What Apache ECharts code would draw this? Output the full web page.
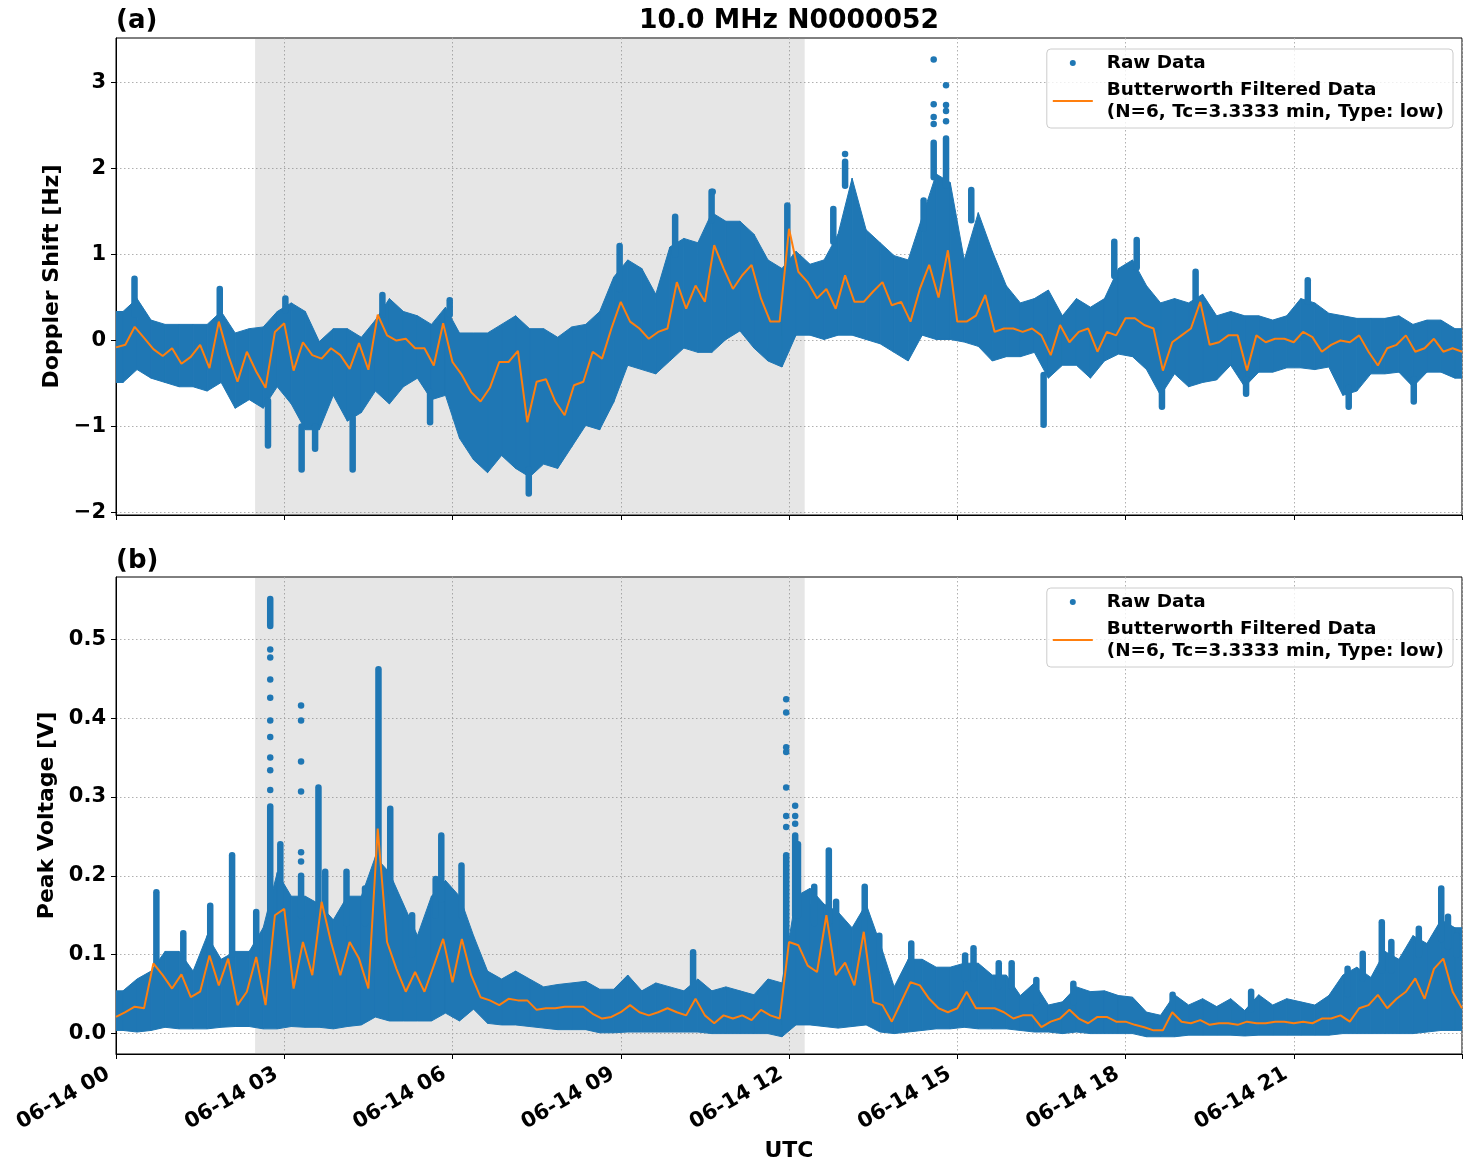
<!DOCTYPE html>
<html><head><meta charset="utf-8">
<script src="https://cdn.jsdelivr.net/npm/echarts@6/dist/echarts.min.js"></script>
<style>html,body{margin:0;padding:0;background:#fff}#chart{width:1471px;height:1172px}</style>
</head><body><div id="chart"></div>
<script>
// ---------------- data ----------------
const titleText = '10.0 MHz N0000052';
const panelLabels = ['(a)', '(b)'];
const xTickHours = [0, 3, 6, 9, 12, 15, 18, 21];
const xTickLabels = ['06-14 00', '06-14 03', '06-14 06', '06-14 09', '06-14 12', '06-14 15', '06-14 18', '06-14 21'];
const xAxisName = 'UTC';
const dopplerTicks = [-2, -1, 0, 1, 2, 3];
const voltageTicks = [0, 0.1, 0.2, 0.3, 0.4, 0.5];
const dopplerAxisName = 'Doppler Shift [Hz]';
const voltageAxisName = 'Peak Voltage [V]';
const shadedHours = [2.48, 12.28];
const rawName = 'Raw Data';
const filtName = 'Butterworth Filtered Data\n(N=6, Tc=3.3333 min, Type: low)';
const binHours = 0.25;          // raw-data envelope bins (15 min)
const filtStepHours = 1 / 6;    // filtered samples every 10 min
const dayHours = 24;

// Doppler shift raw-data envelope, 15-min bins (low / high edge of the dense cloud)
const dopplerLow = [-0.45,-0.3,-0.4,-0.45, -0.5,-0.5,-0.55,-0.45, -0.75,-0.65,-0.75,-0.5, -0.7,-1.0,-1.0,-0.6,
  -0.9,-0.8,-0.55,-0.7, -0.5,-0.4,-0.65,-0.6, -1.1,-1.35,-1.5,-1.3, -1.45,-1.55,-1.4,-1.45,
  -1.2,-0.95,-1.0,-0.68, -0.25,-0.3,-0.35,-0.2, -0.05,-0.1,-0.1,0.05, 0.15,-0.05,-0.2,-0.27,
  0.1,0.1,0.05,0.1, 0.1,0.05,0.0,-0.1, -0.2,0.1,0.05,0.05, 0.02,-0.03,-0.2,-0.15,
  -0.15,-0.1,-0.4,-0.25, -0.25,-0.4,-0.2,-0.12, -0.15,-0.3,-0.6,-0.35, -0.5,-0.45,-0.42,-0.25,
  -0.5,-0.33,-0.33,-0.28, -0.28,-0.3,-0.27,-0.6, -0.55,-0.35,-0.35,-0.33, -0.5,-0.33,-0.33,-0.4];
const dopplerHigh = [0.3,0.45,0.2,0.15, 0.15,0.15,0.15,0.3, 0.05,0.1,0.12,0.3, 0.4,0.3,-0.05,0.1,
  0.1,0.0,0.2,0.45, 0.3,0.25,0.15,0.35, 0.05,0.05,0.05,0.15, 0.25,0.1,0.1,0.0,
  0.12,0.15,0.3,0.7, 0.9,0.8,0.5,1.05, 1.15,1.1,1.45,1.35, 1.35,1.2,0.9,0.8,
  1.0,0.85,0.9,1.2, 1.85,1.25,1.1,0.95, 0.9,1.4,1.9,1.8, 0.9,1.45,1.0,0.6,
  0.4,0.45,0.55,0.25, 0.45,0.35,0.45,0.8, 0.9,0.6,0.4,0.45, 0.4,0.5,0.25,0.3,
  0.25,0.25,0.2,0.25, 0.45,0.4,0.28,0.25, 0.22,0.22,0.22,0.25, 0.15,0.2,0.2,0.1];
// narrow columns of raw points [hour, from, to]
const dopplerSpikes = [[0.33,0.3,0.72],[1.85,0.25,0.6],[3.02,0.35,0.49],[4.75,0.3,0.53],[5.95,0.3,0.47],
  [8.98,0.6,1.1],[9.97,1.0,1.44],[10.62,1.4,1.73],[11.97,0.8,1.57],[12.79,1.15,1.53],
  [13.0,1.8,2.08],[14.4,1.3,1.63],[14.58,1.9,2.3],[14.8,1.8,2.35],[15.25,1.4,1.75],
  [17.8,0.75,1.15],[18.2,0.85,1.17],[19.25,0.4,0.8],[21.25,0.45,0.7],
  [2.71,-0.7,-1.22],[3.31,-1.0,-1.5],[3.55,-1.0,-1.26],[4.22,-0.9,-1.5],[5.6,-0.6,-0.95],
  [7.36,-1.5,-1.78],[16.54,-0.4,-0.98],[18.65,-0.55,-0.77],[20.15,-0.45,-0.62],[21.98,-0.55,-0.77],[23.14,-0.45,-0.71]];
// isolated raw points [hour, value]
const dopplerDots = [[14.58,2.52],[14.58,2.6],[14.58,2.75],[14.58,3.27],[14.8,2.55],[14.8,2.67],[14.8,2.74],[14.8,2.97],[13.0,2.17],[10.64,1.73]];
// Butterworth filtered Doppler shift, every 10 min from 00:00 to 24:00
const dopplerFiltered = [-0.08,-0.05,0.16,0.03,-0.1,-0.18,
  -0.09,-0.27,-0.19,-0.05,-0.32,0.22,
  -0.17,-0.48,-0.13,-0.36,-0.55,0.1,
  0.2,-0.35,-0.02,-0.17,-0.21,-0.09,
  -0.17,-0.33,-0.03,-0.34,0.3,0.06,
  0.0,0.02,-0.09,-0.09,-0.29,0.2,
  -0.25,-0.4,-0.6,-0.71,-0.55,-0.25,
  -0.25,-0.12,-0.95,-0.48,-0.45,-0.71,
  -0.87,-0.52,-0.48,-0.13,-0.21,0.14,
  0.45,0.22,0.14,0.02,0.1,0.14,
  0.68,0.37,0.64,0.45,1.11,0.84,
  0.6,0.76,0.88,0.49,0.22,0.22,
  1.3,0.8,0.68,0.49,0.6,0.37,
  0.76,0.45,0.45,0.57,0.68,0.41,
  0.45,0.22,0.6,0.88,0.5,1.05,
  0.22,0.22,0.29,0.53,0.1,0.14,
  0.14,0.1,0.14,0.06,-0.17,0.18,
  -0.02,0.1,0.14,-0.13,0.1,0.06,
  0.26,0.26,0.18,0.14,-0.35,-0.02,
  0.06,0.14,0.45,-0.05,-0.02,0.06,
  0.06,-0.35,0.06,-0.02,0.02,0.02,
  -0.02,0.1,0.04,-0.13,-0.05,0.0,
  -0.02,0.06,-0.13,-0.29,-0.09,-0.05,
  0.06,-0.13,-0.09,0.02,-0.13,-0.09,
  -0.13];

// Peak voltage raw-data envelope, 15-min bins
const voltageLow = [0.008,0.006,0.008,0.012, 0.01,0.01,0.01,0.012, 0.013,0.013,0.01,0.01, 0.013,0.012,0.012,0.01,
  0.013,0.015,0.025,0.02, 0.02,0.02,0.02,0.03, 0.02,0.035,0.017,0.015, 0.015,0.013,0.011,0.009,
  0.009,0.009,0.005,0.005, 0.006,0.006,0.006,0.006, 0.006,0.006,0.004,0.004, 0.004,0.004,0.004,0.0,
  0.015,0.015,0.013,0.011, 0.013,0.015,0.006,0.004, 0.006,0.008,0.01,0.01, 0.012,0.01,0.01,0.01,
  0.008,0.006,0.006,0.004, 0.006,0.004,0.004,0.004, 0.004,0.0,0.0,0.0, 0.002,0.002,0.002,0.002,
  0.001,0.002,0.002,0.002, 0.002,0.002,0.002,0.004, 0.004,0.004,0.004,0.004, 0.004,0.006,0.008,0.008];
const voltageHigh = [0.05,0.065,0.075,0.1, 0.1,0.075,0.12,0.09, 0.1,0.1,0.13,0.2, 0.17,0.17,0.16,0.14,
  0.17,0.17,0.22,0.2, 0.16,0.12,0.17,0.19, 0.17,0.12,0.075,0.065, 0.075,0.065,0.055,0.058,
  0.06,0.062,0.052,0.052, 0.07,0.05,0.06,0.055, 0.05,0.065,0.05,0.055, 0.05,0.045,0.065,0.06,
  0.17,0.18,0.16,0.15, 0.13,0.16,0.11,0.055, 0.09,0.09,0.08,0.08, 0.085,0.085,0.07,0.07,
  0.044,0.06,0.032,0.036, 0.055,0.049,0.05,0.044, 0.042,0.023,0.019,0.045, 0.032,0.04,0.03,0.04,
  0.025,0.045,0.032,0.04, 0.036,0.032,0.044,0.07, 0.08,0.067,0.1,0.09, 0.12,0.11,0.14,0.13];
const voltageSpikes = [[0.72,0.09,0.179],[1.2,0.08,0.127],[1.68,0.09,0.162],[2.07,0.1,0.226],[2.5,0.1,0.154],
  [2.75,0.15,0.288],[2.75,0.517,0.551],[2.93,0.15,0.24],[3.3,0.15,0.2],[3.61,0.15,0.312],
  [3.73,0.15,0.205],[4.11,0.14,0.205],[4.44,0.14,0.184],[4.68,0.18,0.462],[4.89,0.18,0.285],
  [5.28,0.1,0.15],[5.7,0.15,0.196],[5.8,0.17,0.251],[6.16,0.15,0.213],
  [10.29,0.05,0.103],[11.95,0.06,0.226],[12.11,0.15,0.251],[12.16,0.15,0.24],[12.45,0.14,0.186],
  [12.71,0.14,0.232],[12.84,0.12,0.167],[13.35,0.11,0.186],[13.61,0.08,0.124],[14.18,0.07,0.114],
  [15.14,0.07,0.099],[15.29,0.07,0.108],[15.74,0.06,0.089],[15.97,0.06,0.089],[16.41,0.04,0.068],
  [17.07,0.04,0.063],[18.84,0.03,0.049],[20.24,0.03,0.053],[21.96,0.05,0.082],[22.23,0.07,0.101],
  [22.57,0.08,0.141],[22.74,0.08,0.116],[23.23,0.1,0.133],[23.63,0.12,0.184],[23.75,0.11,0.148],[23.9,0.1,0.124]];
const voltageDots = [[2.75,0.309],[2.75,0.334],[2.75,0.35],[2.75,0.376],[2.75,0.397],[2.75,0.426],[2.75,0.449],[2.75,0.477],[2.75,0.487],
  [3.3,0.218],[3.3,0.23],[3.3,0.307],[3.3,0.345],[3.3,0.397],[3.3,0.416],
  [11.95,0.262],[11.95,0.276],[11.95,0.312],[11.95,0.357],[11.95,0.363],[11.95,0.407],[11.95,0.424],
  [12.11,0.266],[12.11,0.276],[12.11,0.289]];
const voltageFiltered = [0.021,0.027,0.034,0.032,0.089,0.074,
  0.057,0.075,0.046,0.053,0.099,0.061,
  0.095,0.036,0.053,0.097,0.036,0.15,
  0.158,0.057,0.116,0.074,0.167,0.116,
  0.074,0.116,0.095,0.057,0.26,0.116,
  0.082,0.053,0.078,0.053,0.086,0.12,
  0.065,0.12,0.074,0.046,0.042,0.036,
  0.044,0.042,0.042,0.03,0.032,0.032,
  0.034,0.034,0.034,0.025,0.019,0.021,
  0.027,0.036,0.027,0.023,0.027,0.032,
  0.027,0.023,0.044,0.023,0.013,0.023,
  0.019,0.023,0.017,0.03,0.023,0.019,
  0.116,0.112,0.086,0.078,0.15,0.074,
  0.09,0.061,0.129,0.04,0.036,0.015,
  0.04,0.065,0.061,0.044,0.032,0.027,
  0.032,0.053,0.032,0.032,0.032,0.027,
  0.019,0.023,0.023,0.008,0.015,0.019,
  0.03,0.019,0.013,0.021,0.021,0.015,
  0.015,0.011,0.008,0.004,0.004,0.027,
  0.015,0.013,0.017,0.011,0.013,0.013,
  0.011,0.015,0.013,0.013,0.015,0.015,
  0.013,0.015,0.013,0.019,0.019,0.023,
  0.015,0.032,0.036,0.049,0.032,0.044,
  0.053,0.07,0.044,0.082,0.095,0.053,
  0.032];

// ---------------- styling / building ----------------
const BLUE = '#1f77b4', ORANGE = '#ff7f0e', SHADE = 'rgba(128,128,128,0.2)';
const FONT = 'DejaVu Sans';
const DOT = 6.5;

function shadeSeries(k) {
  return {
    type: 'custom', xAxisIndex: k, yAxisIndex: k, silent: true, z: 1,
    data: [[shadedHours[0], shadedHours[1]]],
    encode: { x: [0, 1] },
    renderItem(params, api) {
      const cs = params.coordSys;
      const a = api.coord([api.value(0), 0]), b = api.coord([api.value(1), 0]);
      return { type: 'rect', shape: { x: a[0], y: cs.y, width: b[0] - a[0], height: cs.height }, style: { fill: SHADE } };
    }
  };
}
// envelope of the raw cloud: points at bin centres, held flat to the axis ends
function bandSeries(k, low, high) {
  const pts = low.map((lo, i) => [i * binHours + binHours / 2, lo, high[i]]);
  pts.unshift([0, low[0], high[0]]);
  pts.push([dayHours, low[low.length - 1], high[high.length - 1]]);
  return {
    type: 'custom', name: rawName, xAxisIndex: k, yAxisIndex: k, clip: true, z: 2, silent: true,
    itemStyle: { color: BLUE },
    data: pts,
    encode: { x: 0, y: [1, 2] },
    renderItem(params, api) {
      const i = params.dataIndex;
      if (i >= pts.length - 1) return null;
      const n = pts[i + 1];
      const r = DOT / 2;
      const ha = api.coord([api.value(0), api.value(2)]), la = api.coord([api.value(0), api.value(1)]);
      const hb = api.coord([n[0], n[2]]), lb = api.coord([n[0], n[1]]);
      return { type: 'polygon',
        shape: { points: [[ha[0], ha[1] - r], [hb[0], hb[1] - r], [lb[0], lb[1] + r], [la[0], la[1] + r]] },
        style: { fill: BLUE, stroke: BLUE, lineWidth: 1 } };
    }
  };
}
function spikeSeries(k, spikes) {
  return {
    type: 'custom', name: rawName, xAxisIndex: k, yAxisIndex: k, clip: true, z: 2, silent: true,
    itemStyle: { color: BLUE },
    data: spikes,
    encode: { x: 0, y: [1, 2] },
    renderItem(params, api) {
      const t = api.value(0), v1 = api.value(1), v2 = api.value(2);
      const a = api.coord([t, Math.max(v1, v2)]), b = api.coord([t, Math.min(v1, v2)]);
      const r = DOT / 2;
      return { type: 'rect', shape: { x: a[0] - r, y: a[1] - r, width: 2 * r, height: b[1] - a[1] + 2 * r, r: r }, style: { fill: BLUE } };
    }
  };
}
function dotSeries(k, dots) {
  return { type: 'scatter', name: rawName, xAxisIndex: k, yAxisIndex: k, z: 2, silent: true,
    symbol: 'circle', symbolSize: DOT, itemStyle: { color: BLUE, opacity: 1 }, data: dots };
}
function lineSeries(k, vals) {
  return { type: 'line', name: filtName, xAxisIndex: k, yAxisIndex: k, z: 4, silent: true,
    symbol: 'none', showSymbol: false, clip: true,
    lineStyle: { color: ORANGE, width: 2 }, itemStyle: { color: ORANGE },
    data: vals.map((v, i) => [i * filtStepHours, v]) };
}

const tickFont = { fontFamily: FONT, fontWeight: 'bold', fontSize: 21, color: '#000' };
const nameFont = { fontFamily: FONT, fontWeight: 'bold', fontSize: 22, color: '#000' };
const gridLine = { show: true, lineStyle: { color: '#b0b0b0', width: 1, type: [1.5, 2.5] } };

function xAxis(k, showLabels) {
  return {
    type: 'value', gridIndex: k, min: 0, max: dayHours, interval: 3,
    axisLine: { show: true, onZero: false, lineStyle: { color: '#000', width: 1 } },
    axisTick: { show: true, length: 5, lineStyle: { color: '#000' } },
    axisLabel: {
      show: showLabels, rotate: 30, margin: 14, ...tickFont, padding: [0, 9, 0, 0],
      formatter: v => { const i = xTickHours.indexOf(v); return i >= 0 ? xTickLabels[i] : ''; }
    },
    splitLine: gridLine,
    name: showLabels ? xAxisName : '', nameLocation: 'middle', nameGap: 86, nameTextStyle: nameFont
  };
}
function yAxis(k, min, max, ticks, fmt, name, gap) {
  return {
    type: 'value', gridIndex: k, min: min, max: max,
    axisLine: { show: true, onZero: false, lineStyle: { color: '#000', width: 1 } },
    axisTick: { show: true, length: 5, lineStyle: { color: '#000' }, customValues: ticks },
    axisLabel: { ...tickFont, margin: 10, customValues: ticks, formatter: fmt },
    splitLine: gridLine,
    name: name, nameLocation: 'middle', nameGap: gap, nameRotate: 90, nameTextStyle: nameFont
  };
}
const fmtSigned = v => (v < 0 ? '\u2212' + Math.abs(v) : String(v));
const fmtOne = v => v.toFixed(1);

function legend(top) {
  return {
    top: top, right: 18, orient: 'vertical', selectedMode: false,
    data: [{ name: rawName, icon: 'circle' }, { name: filtName, icon: 'path://M0,0H40V2H0Z' }],
    itemWidth: 40, itemHeight: 6, itemGap: 5, padding: [3, 9, 5, 6],
    backgroundColor: 'rgba(255,255,255,0.8)', borderColor: '#cccccc', borderWidth: 1, borderRadius: 4,
    textStyle: { fontFamily: FONT, fontWeight: 'bold', fontSize: 18.4, color: '#000', lineHeight: 22, padding: [0, 0, 0, 9] }
  };
}
function label(text, x, y, align, size) {
  return { type: 'text', x: x, y: y, z: 10,
    style: { text: text, font: 'bold ' + size + 'px "' + FONT + '"', fill: '#000', align: align, verticalAlign: 'middle', textAlign: align, textVerticalAlign: 'middle' } };
}

const option = {
  animation: false,
  backgroundColor: '#fff',
  grid: [
    { left: 116, top: 38, width: 1346, height: 477, show: true, borderColor: '#000', borderWidth: 1, backgroundColor: 'transparent' },
    { left: 116, top: 577, width: 1346, height: 477, show: true, borderColor: '#000', borderWidth: 1, backgroundColor: 'transparent' }
  ],
  xAxis: [xAxis(0, false), xAxis(1, true)],
  yAxis: [
    yAxis(0, -2.03, 3.52, dopplerTicks, fmtSigned, dopplerAxisName, 43),
    yAxis(1, -0.026, 0.579, voltageTicks, fmtOne, voltageAxisName, 53)
  ],
  legend: [legend(49), legend(588)],
  graphic: [
    label(titleText, 789, 21, 'center', 26.6),
    label(panelLabels[0], 116, 21, 'left', 26),
    label(panelLabels[1], 116, 561, 'left', 26)
  ],
  series: [
    shadeSeries(0), bandSeries(0, dopplerLow, dopplerHigh), spikeSeries(0, dopplerSpikes), dotSeries(0, dopplerDots), lineSeries(0, dopplerFiltered),
    shadeSeries(1), bandSeries(1, voltageLow, voltageHigh), spikeSeries(1, voltageSpikes), dotSeries(1, voltageDots), lineSeries(1, voltageFiltered)
  ]
};
const chart = echarts.init(document.getElementById('chart'), null, { renderer: 'canvas' });
chart.setOption(option);
</script>
</body></html>
